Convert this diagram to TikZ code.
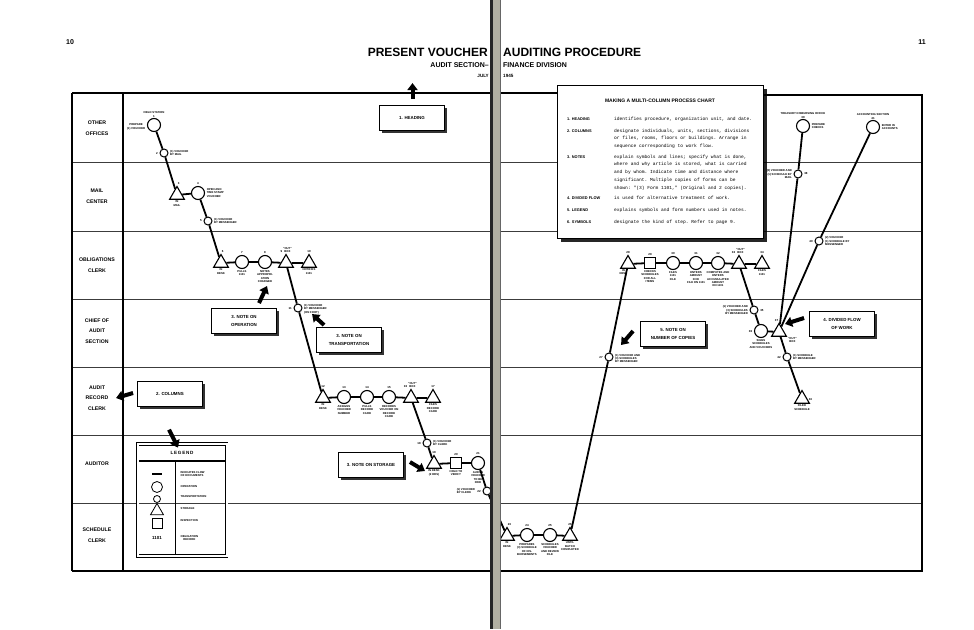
\documentclass[tikz,border=0pt]{standalone}
\usepackage{fontspec}
\setmainfont{Liberation Sans}
\setmonofont{Liberation Mono}
\usetikzlibrary{shapes.geometric, arrows.meta, positioning, shadows, calc}
\definecolor{gutgray}{RGB}{178, 176, 162}
\definecolor{inkgray}{RGB}{60, 60, 60}
\tikzset{
  opnode/.style={circle, draw, line width=1.1pt, fill=white, minimum size=13pt, inner sep=0pt},
  trnode/.style={circle, draw, line width=1pt, fill=white, minimum size=8pt, inner sep=0pt},
  stnode/.style={regular polygon, regular polygon sides=3, draw, line width=1.1pt, fill=white,
                 minimum size=17pt, inner sep=0pt},
  insnode/.style={rectangle, draw, line width=1.1pt, fill=white, minimum size=11pt, inner sep=0pt},
  flow/.style={line width=1.8pt},
  rowline/.style={line width=0.8pt, color=inkgray},
  frame/.style={line width=1.3pt},
  tinytxt/.style={font=\fontsize{2.8}{3.4}\selectfont\bfseries, align=center, inner sep=0.5pt},
  numtxt/.style={font=\fontsize{2.9}{3.2}\selectfont\bfseries, inner sep=0.6pt},
  rowlbl/.style={font=\fontsize{5.2}{10.5}\selectfont\bfseries, align=center},
  titletxt/.style={font=\fontsize{12}{14}\selectfont\bfseries, inner sep=0pt},
  subtxt/.style={font=\fontsize{7}{8}\selectfont\bfseries, inner sep=0pt},
  datetxt/.style={font=\fontsize{4.6}{5}\selectfont\bfseries, inner sep=0pt},
  pgnum/.style={font=\fontsize{7}{8}\selectfont\bfseries},
  notebox/.style={rectangle, draw, line width=0.9pt, fill=white, minimum width=65pt,
                  minimum height=25pt, align=center, font=\fontsize{4.4}{7.5}\selectfont\bfseries,
                  drop shadow={shadow xshift=2.2pt, shadow yshift=-2.2pt, opacity=0.8, fill=black}},
  chartbox/.style={rectangle, draw, line width=1pt, fill=white, minimum width=206pt,
                   minimum height=153pt,
                   drop shadow={shadow xshift=3.5pt, shadow yshift=-3.5pt, opacity=0.85, fill=black}},
  chartlbl/.style={font=\fontsize{3.9}{5.8}\selectfont\bfseries, anchor=base west, inner sep=0pt},
  charttxt/.style={font=\ttfamily\fontsize{4.6}{5}\selectfont, anchor=base west, inner sep=0pt},
  notearrow/.style={line width=4pt, -{Triangle[width=10pt,length=7pt]}},
}

\begin{document}
\begin{tikzpicture}[x=1pt, y=-1pt]
\useasboundingbox (0,0) rectangle (974,629);

\node[pgnum] (pl) at (70,42) {10};
\node[pgnum] (pr) at (922,42) {11};
\node[titletxt, anchor=base east] (t1) at (488,56) {PRESENT VOUCHER};
\node[titletxt, anchor=base west] (t2) at (503,56) {AUDITING PROCEDURE};
\node[subtxt, anchor=base east] (s1) at (489,67) {AUDIT SECTION--};
\node[subtxt, anchor=base west] (s2) at (503,67) {FINANCE DIVISION};
\node[datetxt, anchor=base east] (d1) at (489,77) {JULY};
\node[datetxt, anchor=base west] (d2) at (503,77) {1945};

% rows and frame
\foreach \y in {162,231,299,367,435,503} {
  \draw[rowline] (72,\y) -- (490,\y);
  \draw[rowline] (500,\y) -- (922,\y);
}
\draw[frame] (72,93) -- (490,93) (72,571) -- (490,571) (72,93) -- (72,571) (123,93) -- (123,571);
\draw[frame] (500,93) -- (557,93) (763,95) -- (922,95) -- (922,571) -- (500,571);

\node[rowlbl] (r1) at (97,128) {OTHER\\OFFICES};
\node[rowlbl] (r2) at (97,196) {MAIL\\CENTER};
\node[rowlbl] (r3) at (97,265) {OBLIGATIONS\\CLERK};
\node[rowlbl] (r4) at (97,331) {CHIEF OF\\AUDIT\\SECTION};
\node[rowlbl] (r5) at (97,398) {AUDIT\\RECORD\\CLERK};
\node[rowlbl] (r6) at (97,464) {AUDITOR};
\node[rowlbl] (r7) at (97,535) {SCHEDULE\\CLERK};

% process symbols
\node[opnode]  (n1)  at (154,125) {};
\node[trnode]  (n2)  at (164,153) {};
\node[stnode]  (n3)  at (177,195) {};
\node[opnode]  (n4)  at (198,193) {};
\node[trnode]  (n5)  at (208,221) {};
\node[stnode]  (n6)  at (221,263) {};
\node[opnode]  (n7)  at (242,262) {};
\node[opnode]  (n8)  at (265,262) {};
\node[stnode]  (n9)  at (286,263) {};
\node[stnode]  (n10) at (309,263) {};
\node[trnode]  (n11) at (298,308) {};
\node[stnode]  (n12) at (323,398) {};
\node[opnode]  (n13) at (344,397) {};
\node[opnode]  (n14) at (367,397) {};
\node[opnode]  (n15) at (389,397) {};
\node[stnode]  (n16) at (411,398) {};
\node[stnode]  (n17) at (433,398) {};
\node[trnode]  (n18) at (427,443) {};
\node[stnode]  (n19) at (434,464) {};
\node[insnode] (n20) at (456,463) {};
\node[opnode]  (n21) at (478,463) {};
\node[trnode]  (n22) at (487,491) {};
\node[stnode]  (n23) at (507,536) {};
\node[opnode]  (n24) at (527,535) {};
\node[opnode]  (n25) at (550,535) {};
\node[stnode]  (n26) at (570,536) {};
\node[trnode]  (n27) at (609,357) {};
\node[stnode]  (n28) at (628,264) {};
\node[insnode] (n29) at (650,263) {};
\node[opnode]  (n30) at (673,263) {};
\node[opnode]  (n31) at (696,263) {};
\node[opnode]  (n32) at (718,263) {};
\node[stnode]  (n33) at (739,264) {};
\node[stnode]  (n34) at (762,264) {};
\node[trnode]  (n35) at (754,310) {};
\node[opnode]  (n36) at (761,331) {};
\node[stnode]  (n37) at (779,332) {};
\node[trnode]  (n38) at (798,174) {};
\node[opnode]  (n39) at (803,126) {};
\node[trnode]  (n40) at (819,241) {};
\node[opnode]  (n41) at (873,127) {};
\node[trnode]  (n42) at (787,357) {};
\node[stnode]  (n43) at (802,399) {};

\draw[flow] (n1) -- (n2) -- (n3) -- (n4) -- (n5) -- (n6) -- (n7) -- (n8) -- (n9) -- (n10);
\draw[flow] (n9) -- (n11) -- (n12) -- (n13) -- (n14) -- (n15) -- (n16) -- (n17);
\draw[flow] (n16) -- (n18) -- (n19) -- (n20) -- (n21) -- (n22) -- (n23) -- (n24) -- (n25) -- (n26);
\draw[flow] (n26) -- (n27) -- (n28) -- (n29) -- (n30) -- (n31) -- (n32) -- (n33) -- (n34);
\draw[flow] (n33) -- (n35) -- (n36) -- (n37);
\draw[flow] (n37) -- (n38) -- (n39);
\draw[flow] (n37) -- (n40) -- (n41);
\draw[flow] (n37) -- (n42) -- (n43);

% step notes
\node[tinytxt, above=3.5pt of n1] {FIELD STATION};
\node[numtxt, above=0pt of n1] {1};
\node[tinytxt, left=1pt of n1, yshift=-2pt] {PREPARE\\(1) VOUCHER};
\node[numtxt, left=1pt of n2] {2};
\node[tinytxt, right=1pt of n2, align=left] {(1) VOUCHER\\BY MAIL};
\node[numtxt, anchor=south west] at (n3.corner 1) {3};
\node[tinytxt, below=0.5pt of n3] {IN\\MAIL};
\node[numtxt, above=0.5pt of n4] {4};
\node[tinytxt, right=1pt of n4, align=left] {OPEN AND\\TIME STAMP\\VOUCHER};
\node[numtxt, left=1pt of n5] {5};
\node[tinytxt, right=1pt of n5, align=left] {(1) VOUCHER\\BY MESSENGER};
\node[numtxt, anchor=south west] at (n6.corner 1) {6};
\node[tinytxt, below=0.5pt of n6] {IN\\DESK};
\node[numtxt, above=0.5pt of n7] {7};
\node[tinytxt, below=0.5pt of n7] {PULLS\\1101};
\node[numtxt, above=0.5pt of n8] {8};
\node[tinytxt, below=0.5pt of n8] {NOTES\\APPROPRI-\\ATION\\CHARGED};
\node[numtxt, anchor=south east, xshift=-3pt] at (n9.corner 1) {9};
\node[tinytxt, above=0pt of n9, xshift=1.5pt] {"OUT"\\BOX};
\node[numtxt, above=0.5pt of n10] {10};
\node[tinytxt, below=0.5pt of n10] {NOTIFIES\\1101};
\node[numtxt, left=1pt of n11] {11};
\node[tinytxt, right=1pt of n11, align=left, yshift=-1pt] {(1) VOUCHER\\BY MESSENGER\\(ON FOOT)};
\node[numtxt, above=0.5pt of n12] {12};
\node[tinytxt, below=0.5pt of n12] {IN\\DESK};
\node[numtxt, above=0.5pt of n13] {13};
\node[tinytxt, below=0.5pt of n13] {ASSIGNS\\VOUCHER\\NUMBER};
\node[numtxt, above=0.5pt of n14] {14};
\node[tinytxt, below=0.5pt of n14] {PULLS\\RECORD\\CARD};
\node[numtxt, above=0.5pt of n15] {15};
\node[tinytxt, below=0.5pt of n15] {RECORDS\\VOUCHER ON\\RECORD\\CARD};
\node[numtxt, anchor=south east, xshift=-3pt] at (n16.corner 1) {16};
\node[tinytxt, above=0pt of n16, xshift=1.5pt] {"OUT"\\BOX};
\node[numtxt, above=0.5pt of n17] {17};
\node[tinytxt, below=0.5pt of n17] {FILES\\RECORD\\CARD};
\node[numtxt, left=1pt of n18] {18};
\node[tinytxt, right=1pt of n18, align=left] {(1) VOUCHER\\BY CLERK};
\node[numtxt, above=0.5pt of n19] {19};
\node[tinytxt, below=0.5pt of n19] {IN DESK\\(2 HRS)};
\node[numtxt, above=0.5pt of n20] {20};
\node[tinytxt, below=0.5pt of n20] {HOLD TO\\VERIFY};
\node[numtxt, above=0.5pt of n21] {21};
\node[tinytxt, below=0.5pt of n21] {AUDITS\\VOUCHER\\TO BE\\PAID};
\node[numtxt, left=1pt of n22] (n22num) {22};
\node[tinytxt, left=1pt of n22num, align=left] {(1) VOUCHER\\BY CLERK};
\node[numtxt, anchor=south west] at (n23.corner 1) {23};
\node[tinytxt, below=0.5pt of n23] {IN\\DESK};
\node[numtxt, above=0.5pt of n24] {24};
\node[tinytxt, below=0.5pt of n24] {PREPARES\\(3) SCHEDULE\\OF DIS-\\BURSEMENTS};
\node[numtxt, above=0.5pt of n25] {25};
\node[tinytxt, below=0.5pt of n25] {SCHEDULES\\VOUCHER\\AND REVIEW\\FILE};
\node[numtxt, above=0.5pt of n26] {26};
\node[tinytxt, below=0.5pt of n26] {UNTIL\\BATCH\\COMPLETED};
\node[numtxt, left=1pt of n27] {27};
\node[tinytxt, right=1pt of n27, align=left, yshift=-1.5pt] {(1) VOUCHER AND\\(3) SCHEDULES\\BY MESSENGER};
\node[numtxt, above=0.5pt of n28] {28};
\node[tinytxt, anchor=north east] at (n28.south) {IN\\DESK};
\node[numtxt, above=0.5pt of n29] {29};
\node[tinytxt, below=0.5pt of n29] {CHECKS\\SCHEDULES\\FOR ALL\\ITEMS};
\node[numtxt, above=0.5pt of n30] {30};
\node[tinytxt, below=0.5pt of n30] {FILES\\1101\\FILE};
\node[numtxt, above=0.5pt of n31] {31};
\node[tinytxt, below=0.5pt of n31] {ENTERS\\AMOUNT\\IN ID\\FILE ON 1101};
\node[numtxt, above=0.5pt of n32] {32};
\node[tinytxt, below=0.5pt of n32] {COMPUTES AND\\ENTERS\\ACCUMULATED\\AMOUNT\\ON 1101};
\node[numtxt, anchor=south east, xshift=-3pt] at (n33.corner 1) {33};
\node[tinytxt, above=0pt of n33, xshift=1.5pt] {"OUT"\\BOX};
\node[numtxt, above=0.5pt of n34] {34};
\node[tinytxt, below=0.5pt of n34] {FILES\\1101};
\node[numtxt, right=1pt of n35] {35};
\node[tinytxt, left=1pt of n35, align=right] {(1) VOUCHER AND\\(3) SCHEDULES\\BY MESSENGER};
\node[numtxt, left=1pt of n36] {36};
\node[tinytxt, below=0.5pt of n36] {SIGNS\\SCHEDULES\\AND VOUCHERS};
\node[numtxt, anchor=south east] at (n37.corner 1) {37};
\node[tinytxt, anchor=north west] at (n37.corner 3) {"OUT"\\BOX};
\node[numtxt, right=1pt of n38] {38};
\node[tinytxt, left=1pt of n38, align=right] {(3) VOUCHER AND\\(1) SCHEDULE BY\\MAIL};
\node[numtxt, above=0pt of n39] (n39num) {39};
\node[tinytxt, above=0pt of n39num] {TREASURY DISBURSING OFFICE};
\node[tinytxt, right=1pt of n39, align=left] {PREPARE\\CHECKS};
\node[numtxt, left=1pt of n40] {40};
\node[tinytxt, right=1pt of n40, align=left] {(2) VOUCHER\\(1) SCHEDULE BY\\MESSENGER};
\node[numtxt, above=0pt of n41] (n41num) {41};
\node[tinytxt, above=0pt of n41num] {ACCOUNTING SECTION};
\node[tinytxt, right=1pt of n41, align=left] {ENTER IN\\ACCOUNTS};
\node[numtxt, left=1pt of n42] {42};
\node[tinytxt, right=1pt of n42, align=left] {(1) SCHEDULE\\BY MESSENGER};
\node[numtxt, right=0.5pt of n43] {43};
\node[tinytxt, below=0.5pt of n43] {FILED\\SCHEDULE};

% note boxes and pointers
\node[notebox] (hdbox) at (412,118) {1. HEADING};
\node[notebox] (colbox) at (170,394) {2. COLUMNS};
\node[notebox] (opbox) at (244,321) {3. NOTE ON\\OPERATION};
\node[notebox] (trbox) at (349,340) {3. NOTE ON\\TRANSPORTATION};
\node[notebox] (stbox) at (371,465) {3. NOTE ON STORAGE};
\node[notebox] (cpbox) at (673,334) {5. NOTE ON\\NUMBER OF COPIES};
\node[notebox] (dfbox) at (842,324) {4. DIVIDED FLOW\\OF WORK};

\draw[notearrow] (hdbox.north) ++(0.5,-6) -- ++(0,-16);
\draw[notearrow] (colbox.west) ++(-4,-1) -- ++(-17,5);
\draw[notearrow] (opbox.north) ++(15,-5) -- ++(8,-17);
\draw[notearrow] (trbox.north west) ++(8,-2) -- ++(-12,-11);
\draw[notearrow] (stbox.east) ++(6,-3) -- ++(15,9);
\draw[notearrow] (cpbox.west) ++(-7,-3) -- ++(-12,14);
\draw[notearrow] (dfbox.west) ++(-5,-6) -- ++(-19,6);

% legend
\node[rectangle, draw, double, double distance=2pt, line width=0.7pt, minimum width=89pt,
      minimum height=112pt] (lgbox) at (182,500) {};
\draw[line width=1.2pt] (139,461) -- (225,461);
\draw[line width=0.9pt] (175,461) -- (175,555);
\node[font=\fontsize{4.6}{5}\selectfont\bfseries] (lgtitle) at (182,453) {L\,E\,G\,E\,N\,D};
\draw[notearrow] (lgbox.north) ++(-13,-14) -- ++(9,18);
\draw[line width=1.6pt] (152,474) -- (162,474);
\node[opnode, line width=0.8pt, minimum size=11pt] (lg1) at (157,487) {};
\node[trnode, line width=0.8pt, minimum size=7pt] (lg2) at (157,499) {};
\node[stnode, line width=0.8pt, minimum size=15pt] (lg3) at (157,511) {};
\node[insnode, line width=0.8pt, minimum size=10pt] (lg4) at (157,523) {};
\node[font=\fontsize{4.4}{5}\selectfont\bfseries] (lg5) at (157,538) {1101};
\node[tinytxt, anchor=west, align=left] at (180,474) {INDICATES FLOW\\OF DOCUMENTS};
\node[tinytxt, anchor=west] at (180,487) {OPERATION};
\node[tinytxt, anchor=west] at (180,497) {TRANSPORTATION};
\node[tinytxt, anchor=west] at (180,509) {STORAGE};
\node[tinytxt, anchor=west] at (180,521) {INSPECTION};
\node[tinytxt, anchor=west] at (180,538) {OBLIGATION\\RECORD};

% instruction chart
\node[chartbox] (chart) at (660,162) {};
\node[font=\fontsize{5}{6}\selectfont\bfseries] (charttitle) at (660,101) {MAKING A MULTI-COLUMN PROCESS CHART};
\foreach \yy/\lbl in {120/{1. HEADING}, 132/{2. COLUMNS}, 158/{3. NOTES},
                      199/{4. DIVIDED FLOW}, 211/{5. LEGEND}, 223/{6. SYMBOLS}}
  \node[chartlbl] at (567,\yy) {\lbl};
\foreach \yy/\txt in {
    120/{identifies procedure, organization unit, and date.},
    132/{designate individuals, units, sections, divisions},
    139.8/{or files, rooms, floors or buildings.  Arrange in},
    147.6/{sequence corresponding to work flow.},
    158/{explain symbols and lines; specify what is done,},
    165.8/{where and why article is stored, what is carried},
    173.6/{and by whom.  Indicate time and distance where},
    181.4/{significant.  Multiple copies of forms can be},
    189.2/{shown: "(3) Form 1101," (Original and 2 copies).},
    199/{is used for alternative treatment of work.},
    211/{explains symbols and form numbers used in notes.},
    223/{designate the kind of step.  Refer to page 9.}}
  \node[charttxt] at (614,\yy) {\txt};

% binding gutter
\fill[gutgray] (490,0) rectangle (500,629);
\fill[black!85] (489.5,0) rectangle (492.5,629);
\draw[black!60, line width=0.6pt] (500,0) -- (500,629);
\end{tikzpicture}
\end{document}
